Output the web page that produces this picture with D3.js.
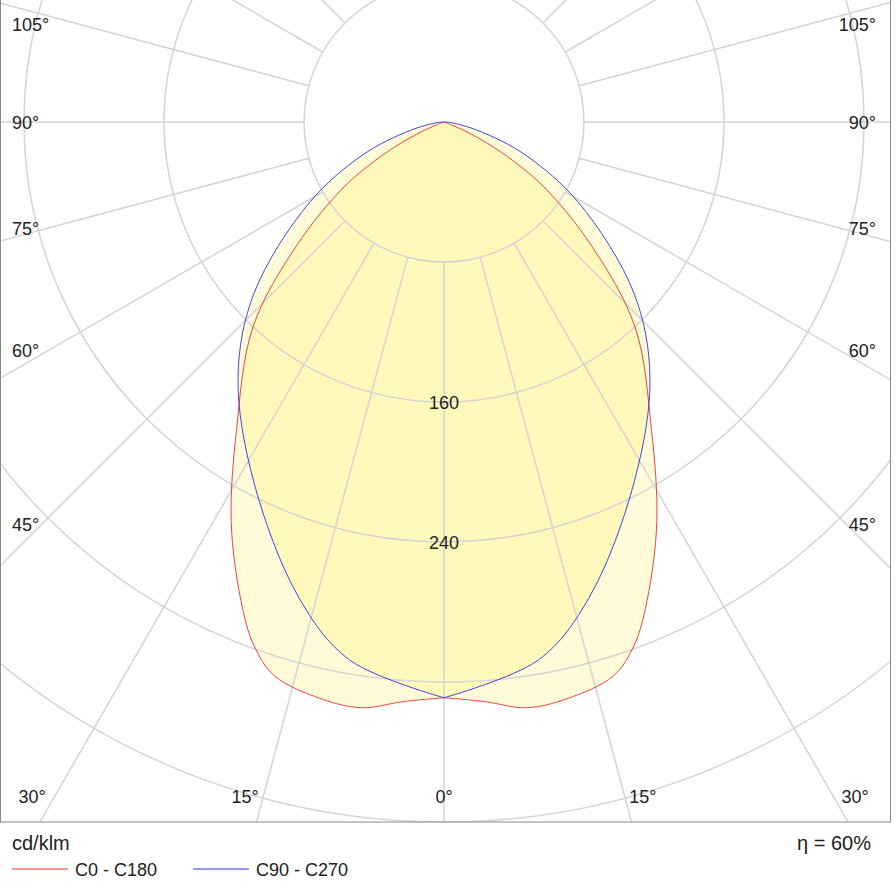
<!DOCTYPE html>
<html><head><meta charset="utf-8">
<script src="https://cdn.jsdelivr.net/npm/d3@7"></script>
<style>body{margin:0;background:#fff}svg{display:block}</style>
</head><body>
<script>
// gamma angles (deg from nadir) and intensities in cd/klm
const redAngles = [0, 4, 8, 12, 17, 20, 23, 28, 34, 43, 50, 57, 62, 66, 70, 90]
const redValues = [329, 332, 338, 337, 331, 318, 297, 259, 212, 160, 110, 68, 38, 17, 4, 0]
const blueAngles = [0, 10, 17, 28, 39, 48, 59, 68, 76, 85, 90]
const blueValues = [329, 312, 284, 232, 187, 146, 90, 50, 20, 4, 0]
const ringValues = [80, 160, 240, 320, 400, 480]
const ringLabels = ['160', '240']
const spokeAngles = d3.range(0, 181, 15)
const angleLabels = [30, 15, 0, 15, 30]
const sideLabels = [45, 60, 75, 90, 105]

const W = 895, H = 891
const cx = 444, cy = 122
const frame = { x0: 0, y0: 0, x1: 890, y1: 822 }
const font = 'Arial, "Liberation Sans", sans-serif'

const r = d3.scaleLinear().domain([0, 80]).range([0, 140])

const svg = d3.select('body').append('svg').attr('width', W).attr('height', H)
svg.append('clipPath').attr('id', 'clip').append('rect')
  .attr('x', frame.x0).attr('y', frame.y0).attr('width', frame.x1 - frame.x0).attr('height', frame.y1 - frame.y0)
const g = svg.append('g').attr('clip-path', 'url(#clip)')
const c = g.append('g').attr('transform', `translate(${cx},${cy})`)

// mirror half-curve into a full closed polygon
function fullCurve(angles, values) {
  const pts = []
  angles.forEach((a, i) => pts.push([Math.PI - a * Math.PI / 180, r(values[i])]))
  for (let i = angles.length - 1; i >= 0; i--) pts.push([Math.PI + angles[i] * Math.PI / 180, r(values[i])])
  return pts
}
const line = d3.lineRadial().angle(d => d[0]).radius(d => d[1]).curve(d3.curveCatmullRomClosed)

const redPts = fullCurve(redAngles, redValues)
const bluePts = fullCurve(blueAngles, blueValues)
c.append('path').attr('d', line(redPts)).attr('fill', 'rgb(255,240,100)').attr('fill-opacity', 0.25)
c.append('path').attr('d', line(bluePts)).attr('fill', 'rgb(255,240,100)').attr('fill-opacity', 0.25)

// grid
const gridColor = '#d4d4d4'
c.selectAll('circle.ring').data(ringValues).join('circle')
  .attr('r', d => r(d)).attr('fill', 'none').attr('stroke', gridColor).attr('stroke-width', 1.5)
const spokes = []
spokeAngles.forEach(a => { spokes.push(a); if (a > 0 && a < 180) spokes.push(-a) })
c.selectAll('line.spoke').data(spokes).join('line')
  .attr('x1', d => Math.sin(d * Math.PI / 180) * r(80))
  .attr('y1', d => Math.cos(d * Math.PI / 180) * r(80))
  .attr('x2', d => Math.sin(d * Math.PI / 180) * 1400)
  .attr('y2', d => Math.cos(d * Math.PI / 180) * 1400)
  .attr('stroke', gridColor).attr('stroke-width', 1.5)

// outlines
c.append('path').attr('d', line(redPts)).attr('fill', 'none').attr('stroke', '#e83030').attr('stroke-width', 0.9)
c.append('path').attr('d', line(bluePts)).attr('fill', 'none').attr('stroke', '#3030e0').attr('stroke-width', 0.9)

// ring labels
c.selectAll('text.rl').data(ringLabels).join('text')
  .attr('x', 0).attr('y', d => r(+d) + 7).attr('text-anchor', 'middle')
  .attr('font-family', font).attr('font-size', 18).attr('fill', '#222').text(d => d)

// angle labels: bottom row
const labelY = 797, labelYoff = 6
angleLabels.forEach((a, i) => {
  const sign = i < 2 ? -1 : 1
  let x = cx + sign * (labelY - cy) * Math.tan(a * Math.PI / 180)
  if (a === 15) x += sign * 18
  if (a === 30) x = sign < 0 ? 32 : 855
  svg.append('text').attr('x', x).attr('y', labelY + labelYoff).attr('text-anchor', 'middle')
    .attr('font-family', font).attr('font-size', 18).attr('fill', '#222').text(a + '°')
})
// side labels
sideLabels.forEach(a => {
  const dy = (cx - 28) / Math.tan(a * Math.PI / 180)
  let y = cy + dy - (a === 90 ? 0 : (a < 90 ? 12 : -10))
  if (a === 45) y = 524
  if (a === 75) y = 228
  if (a === 105) y = 24
  ;[[12, 'start'], [876, 'end']].forEach(([x, anc]) => {
    svg.append('text').attr('x', x).attr('y', y + 7).attr('text-anchor', anc)
      .attr('font-family', font).attr('font-size', 18).attr('fill', '#222').text(a + '°')
  })
})

// frame
svg.append('rect').attr('x', 0.5).attr('y', -1).attr('width', 890).attr('height', frame.y1 + 1)
  .attr('fill', 'none').attr('stroke', '#888').attr('stroke-width', 1)

// legend
svg.append('text').attr('x', 12).attr('y', 850).attr('font-family', font).attr('font-size', 20).attr('fill', '#222').text('cd/klm')
svg.append('text').attr('x', 871).attr('y', 850).attr('text-anchor', 'end').attr('font-family', font).attr('font-size', 20).attr('fill', '#222').text('η = 60%')
const legend = [['C0 - C180', '#e83030', 12], ['C90 - C270', '#3030e0', 193]]
legend.forEach(([t, col, x]) => {
  svg.append('line').attr('x1', x).attr('x2', x + 56).attr('y1', 869).attr('y2', 869).attr('stroke', col).attr('stroke-width', 1)
  svg.append('text').attr('x', x + 63).attr('y', 876).attr('font-family', font).attr('font-size', 18).attr('fill', '#222').text(t)
})
</script>
</body></html>
